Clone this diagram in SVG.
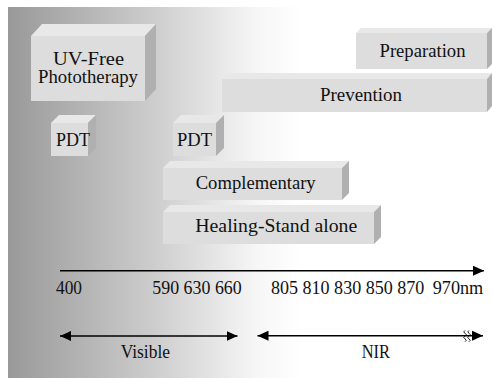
<svg xmlns="http://www.w3.org/2000/svg" width="492" height="378" viewBox="0 0 492 378">
<defs>
<linearGradient id="bg" gradientUnits="userSpaceOnUse" x1="8" y1="0" x2="300" y2="0">
<stop offset="0" stop-color="#999999"/>
<stop offset="0.5" stop-color="#cdcdcd"/>
<stop offset="0.85" stop-color="#f6f6f6"/>
<stop offset="1" stop-color="#ffffff"/>
</linearGradient>
<marker id="ah" markerUnits="userSpaceOnUse" markerWidth="12" markerHeight="10" refX="11" refY="5" orient="auto-start-reverse">
<path d="M0,0 L11,5 L0,10 z" fill="#000"/>
</marker>
<style>
.front{fill:#dddddd}
.top{fill:#e8e8e8}
.side{fill:#b0b0b0}
text{font-family:'Liberation Serif','DejaVu Serif','Times New Roman',Times,serif;font-size:18px;fill:#111}
.lbl{text-anchor:middle}
.line{stroke:#000;stroke-width:1.6;fill:none}
</style>
</defs>
<rect x="0" y="0" width="492" height="378" fill="#ffffff"/>
<rect x="8" y="7" width="484" height="371" fill="url(#bg)"/>

<g id="uv-free">
<polygon class="top" points="31,36 42,24 156,24 145,36"/>
<polygon class="side" points="145,36 156,24 156,89 145,101"/>
<rect class="front" x="31" y="36" width="114" height="65"/>
<text class="lbl" x="88.5" y="64.5" font-family="Liberation Serif" textLength="71" lengthAdjust="spacingAndGlyphs">UV-Free</text>
<text class="lbl" x="88" y="82.5" font-family="Liberation Serif" textLength="100" lengthAdjust="spacingAndGlyphs">Phototherapy</text>
</g>

<g id="pdt1">
<polygon class="top" points="51,123 59,115 96,115 88,123"/>
<polygon class="side" points="88,123 96,115 96,148 88,156"/>
<rect class="front" x="51" y="123" width="37" height="33"/>
<text class="lbl" x="73" y="145.5" textLength="34" lengthAdjust="spacingAndGlyphs">PDT</text>
</g>

<g id="pdt2">
<polygon class="top" points="173,123 181,115 224,115 216,123"/>
<polygon class="side" points="216,123 224,115 224,148 216,156"/>
<rect class="front" x="173" y="123" width="43" height="33"/>
<text class="lbl" x="194.5" y="145.5" textLength="35" lengthAdjust="spacingAndGlyphs">PDT</text>
</g>

<g id="preparation">
<polygon class="top" points="356,33 361,28 492,28 487,33"/>
<polygon class="side" points="487,33 492,28 492,64 487,69"/>
<rect class="front" x="356" y="33" width="131" height="36"/>
<text class="lbl" x="422.5" y="56.5" textLength="86" lengthAdjust="spacingAndGlyphs">Preparation</text>
</g>

<g id="prevention">
<polygon class="top" points="222,79 228,73 492,73 487,79"/>
<polygon class="side" points="487,79 492,73 492,106 487,112"/>
<rect class="front" x="222" y="79" width="265" height="33"/>
<text class="lbl" x="361" y="100.5" textLength="82" lengthAdjust="spacingAndGlyphs">Prevention</text>
</g>

<g id="complementary">
<polygon class="top" points="163,168 170,161 349,161 342,168"/>
<polygon class="side" points="342,168 349,161 349,193 342,200"/>
<rect class="front" x="163" y="168" width="179" height="32"/>
<text class="lbl" x="255.7" y="188.5" textLength="120" lengthAdjust="spacingAndGlyphs">Complementary</text>
</g>

<g id="healing">
<polygon class="top" points="163,212 170,205 381,205 374,212"/>
<polygon class="side" points="374,212 381,205 381,237 374,244"/>
<rect class="front" x="163" y="212" width="211" height="32"/>
<text class="lbl" x="276.3" y="231.5" textLength="162" lengthAdjust="spacingAndGlyphs">Healing-Stand alone</text>
</g>

<g id="connectors">
<line class="line" x1="60" y1="270.7" x2="484" y2="270.7" marker-end="url(#ah)"/>
<line class="line" x1="60" y1="336" x2="237.5" y2="336" marker-start="url(#ah)" marker-end="url(#ah)"/>
<line class="line" x1="257.5" y1="335.7" x2="483" y2="335.7" marker-start="url(#ah)" marker-end="url(#ah)"/>
<path d="M465,330.5 q-2.5,1.4 0,2.8 q2.5,1.4 0,2.8 q-2.5,1.4 0,2.8 q2.5,1.4 0,2.8 M469,330.5 q-2.5,1.4 0,2.8 q2.5,1.4 0,2.8 q-2.5,1.4 0,2.8 q2.5,1.4 0,2.8" stroke="#000" stroke-width="0.9" fill="none"/>
</g>

<g id="axis-labels">
<text x="56" y="293.5" textLength="26" lengthAdjust="spacingAndGlyphs">400</text>
<text x="152.3" y="293.5" textLength="89.4" lengthAdjust="spacingAndGlyphs">590 630 660</text>
<text x="271" y="293.5" textLength="153.3" lengthAdjust="spacingAndGlyphs">805 810 830 850 870</text>
<text x="432.7" y="293.5" textLength="50.6" lengthAdjust="spacingAndGlyphs">970nm</text>
<text x="120.7" y="358" textLength="49.3" lengthAdjust="spacingAndGlyphs">Visible</text>
<text x="361.7" y="358" textLength="28.3" lengthAdjust="spacingAndGlyphs">NIR</text>
</g>
</svg>
